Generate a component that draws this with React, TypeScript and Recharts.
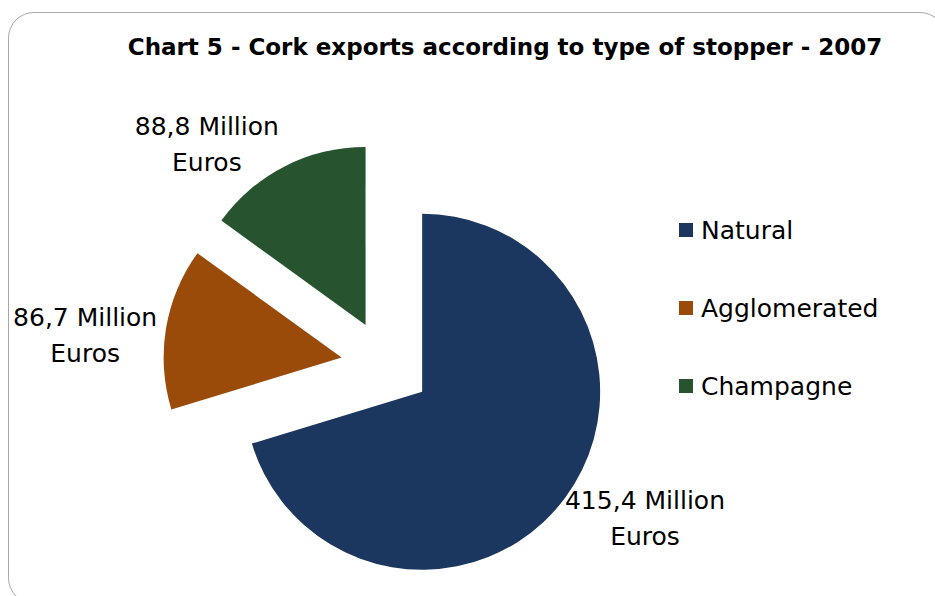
import React from 'react';
import { PieChart, Pie, Legend } from 'recharts';

const categories = ['Natural', 'Agglomerated', 'Champagne'];
const values = [415.4, 86.7, 88.8];
const valueLabels = ['415,4', '86,7', '88,8'];
const colors = ['#1b375f', '#9a4a09', '#27532e'];

const FONT = '"DejaVu Sans", sans-serif';
const CX = 386;
const CY = 365;
const RADIUS = 178;
const EXPLODE = 45;
const RADIAN = Math.PI / 180;

const total = values.reduce((a, b) => a + b, 0);

// each slice is its own Pie so it can be pulled out along its mid angle (Excel exploded pie)
const slices = values.map((v, i) => {
  const before = values.slice(0, i).reduce((a, b) => a + b, 0);
  const startAngle = 90 - (before / total) * 360;
  const endAngle = 90 - ((before + v) / total) * 360;
  const mid = (startAngle + endAngle) / 2;
  return {
    data: [{ name: categories[i], value: v, label: valueLabels[i] }],
    startAngle,
    endAngle,
    cx: CX + EXPLODE * Math.cos(mid * RADIAN),
    cy: CY - EXPLODE * Math.sin(mid * RADIAN),
    fill: colors[i],
  };
});

const renderLabel = (props: any) => {
  const { cx, cy, midAngle, outerRadius, payload } = props;
  const r = outerRadius + 6;
  const cos = Math.cos(-midAngle * RADIAN);
  const sin = Math.sin(-midAngle * RADIAN);
  const px = cx + r * cos;
  const py = cy + r * sin;
  const x = px + (cos < 0 ? -75 : 75);
  const yc = py + 20 * sin + 15 * (1 - Math.abs(sin));
  const label = payload?.label ?? props.label;
  return (
    <text x={x} y={yc} textAnchor="middle" fontFamily={FONT} fontSize={25} fill="#000">
      <tspan x={x} y={yc - 10}>{`${label} Million`}</tspan>
      <tspan x={x} y={yc + 26}>Euros</tspan>
    </text>
  );
};

const renderLegend = ({ payload }: any) => {
  const items = [...(payload || [])].sort(
    (a: any, b: any) => categories.indexOf(a.value) - categories.indexOf(b.value)
  );
  return (
    <div style={{ fontFamily: FONT, fontSize: 25, color: '#000' }}>
      {items.map((p: any, i: number) => (
        <div key={i} style={{ display: 'flex', alignItems: 'center', height: 78 }}>
          <span style={{ display: 'inline-block', width: 14, height: 14, background: p.color, marginRight: 8 }} />
          <span>{p.value}</span>
        </div>
      ))}
    </div>
  );
};

export default function App() {
  return (
    <div
      style={{
        position: 'absolute',
        left: 0,
        top: 0,
        width: 935,
        height: 596,
        overflow: 'hidden',
        background: '#fff',
      }}
    >
      <div
        style={{
          position: 'absolute',
          left: 8,
          top: 12,
          width: 936,
          height: 590,
          border: '1.5px solid #a8a8a8',
          borderRadius: 26,
        }}
      />
      <div
        style={{
          position: 'absolute',
          left: 0,
          width: 1010,
          top: 34,
          textAlign: 'center',
          fontFamily: FONT,
          fontWeight: 'bold',
          fontSize: 23,
          color: '#000',
        }}
      >
        Chart 5 - Cork exports according to type of stopper - 2007
      </div>
      <div style={{ position: 'absolute', left: 0, top: 0 }}>
        <PieChart width={935} height={596} margin={{ top: 0, right: 0, bottom: 0, left: 0 }}>
          {slices.map((s, i) => (
            <Pie
              key={i}
              data={s.data}
              dataKey="value"
              nameKey="name"
              cx={s.cx}
              cy={s.cy}
              startAngle={s.startAngle}
              endAngle={s.endAngle}
              outerRadius={RADIUS}
              fill={s.fill}
              stroke="none"
              label={renderLabel}
              labelLine={false}
              isAnimationActive={false}
            />
          ))}
          <Legend
            content={renderLegend}
            wrapperStyle={{ left: 679, top: 191, width: 250, bottom: 'auto', right: 'auto' }}
          />
        </PieChart>
      </div>
    </div>
  );
}
